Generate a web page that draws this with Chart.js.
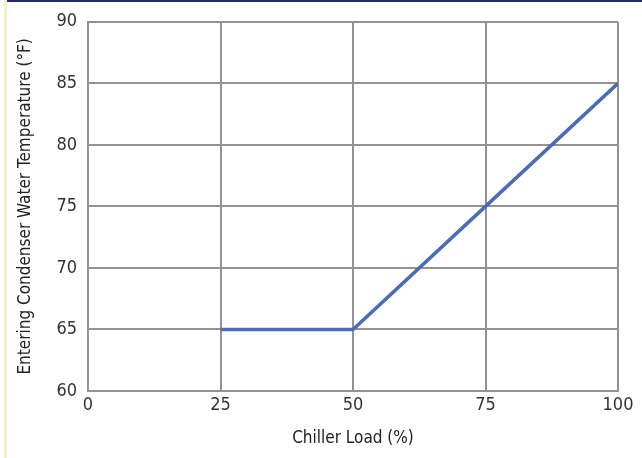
<!DOCTYPE html>
<html>
<head>
<meta charset="utf-8">
<script src="https://cdn.jsdelivr.net/npm/chart.js@4.4.1/dist/chart.umd.min.js"></script>
<style>
  html, body { margin: 0; padding: 0; background: #fff; }
  #wrap { position: relative; width: 642px; height: 458px; }
  #strip { position: absolute; left: 4px; top: 0; width: 3px; height: 458px; background: #f4ead8; }
  #topbar { position: absolute; left: 7px; top: 0; width: 635px; height: 2px; background: #1d2c6a; }
  canvas { position: absolute; left: 0; top: 0; }
</style>
</head>
<body>
<div id="wrap">
  <div id="strip"></div>
  <div id="topbar"></div>
  <canvas id="myChart" width="642" height="458"></canvas>
</div>
<script>
// chiller load (%) vs entering condenser water temp (F)
const loadPct = [25, 50, 75, 100];
const ecwTemp = [65, 65, 75, 85];
const xTicks = [0, 25, 50, 75, 100];
const yTicks = [60, 65, 70, 75, 80, 85, 90];

const fontFam = "'Liberation Sans Narrow', 'DejaVu Sans Condensed', 'Arial Narrow', sans-serif";
const gridColor = '#96928f';

const points = loadPct.map((x, i) => ({ x: x, y: ecwTemp[i] }));

const ctx = document.getElementById('myChart').getContext('2d');
new Chart(ctx, {
  type: 'line',
  data: {
    datasets: [{
      data: points,
      borderColor: '#4a6cb5',
      borderWidth: 3.5,
      pointRadius: 0,
      tension: 0,
      fill: false
    }]
  },
  options: {
    responsive: false,
    animation: false,
    layout: { padding: { left: 0, right: 24, top: 19, bottom: 0 } },
    plugins: { legend: { display: false }, tooltip: { enabled: false } },
    scales: {
      x: {
        type: 'linear',
        min: 0,
        max: 100,
        afterBuildTicks: (scale) => { scale.ticks = xTicks.map(v => ({ value: v })); },
        afterFit: (scale) => { scale.height = 67; },
        grid: { color: gridColor, lineWidth: 2, drawTicks: false },
        border: { color: gridColor, width: 2 },
        ticks: { padding: 4, color: '#333', font: { family: fontFam, size: 18 } },
        title: {
          display: true,
          text: 'Chiller Load (%)',
          color: '#222',
          padding: { top: 0, bottom: 9 },
          font: { family: fontFam, size: 17 }
        }
      },
      y: {
        min: 60,
        max: 90,
        afterBuildTicks: (scale) => { scale.ticks = yTicks.map(v => ({ value: v })); },
        afterFit: (scale) => { scale.width = 88; },
        grid: { color: gridColor, lineWidth: 2, drawTicks: false },
        border: { color: gridColor, width: 2 },
        ticks: { padding: 11, color: '#333', font: { family: fontFam, size: 18 } },
        title: {
          display: true,
          text: 'Entering Condenser Water Temperature (°F)',
          color: '#222',
          padding: { top: 15, bottom: 0 },
          font: { family: fontFam, size: 17 }
        }
      }
    }
  }
});
</script>
</body>
</html>
